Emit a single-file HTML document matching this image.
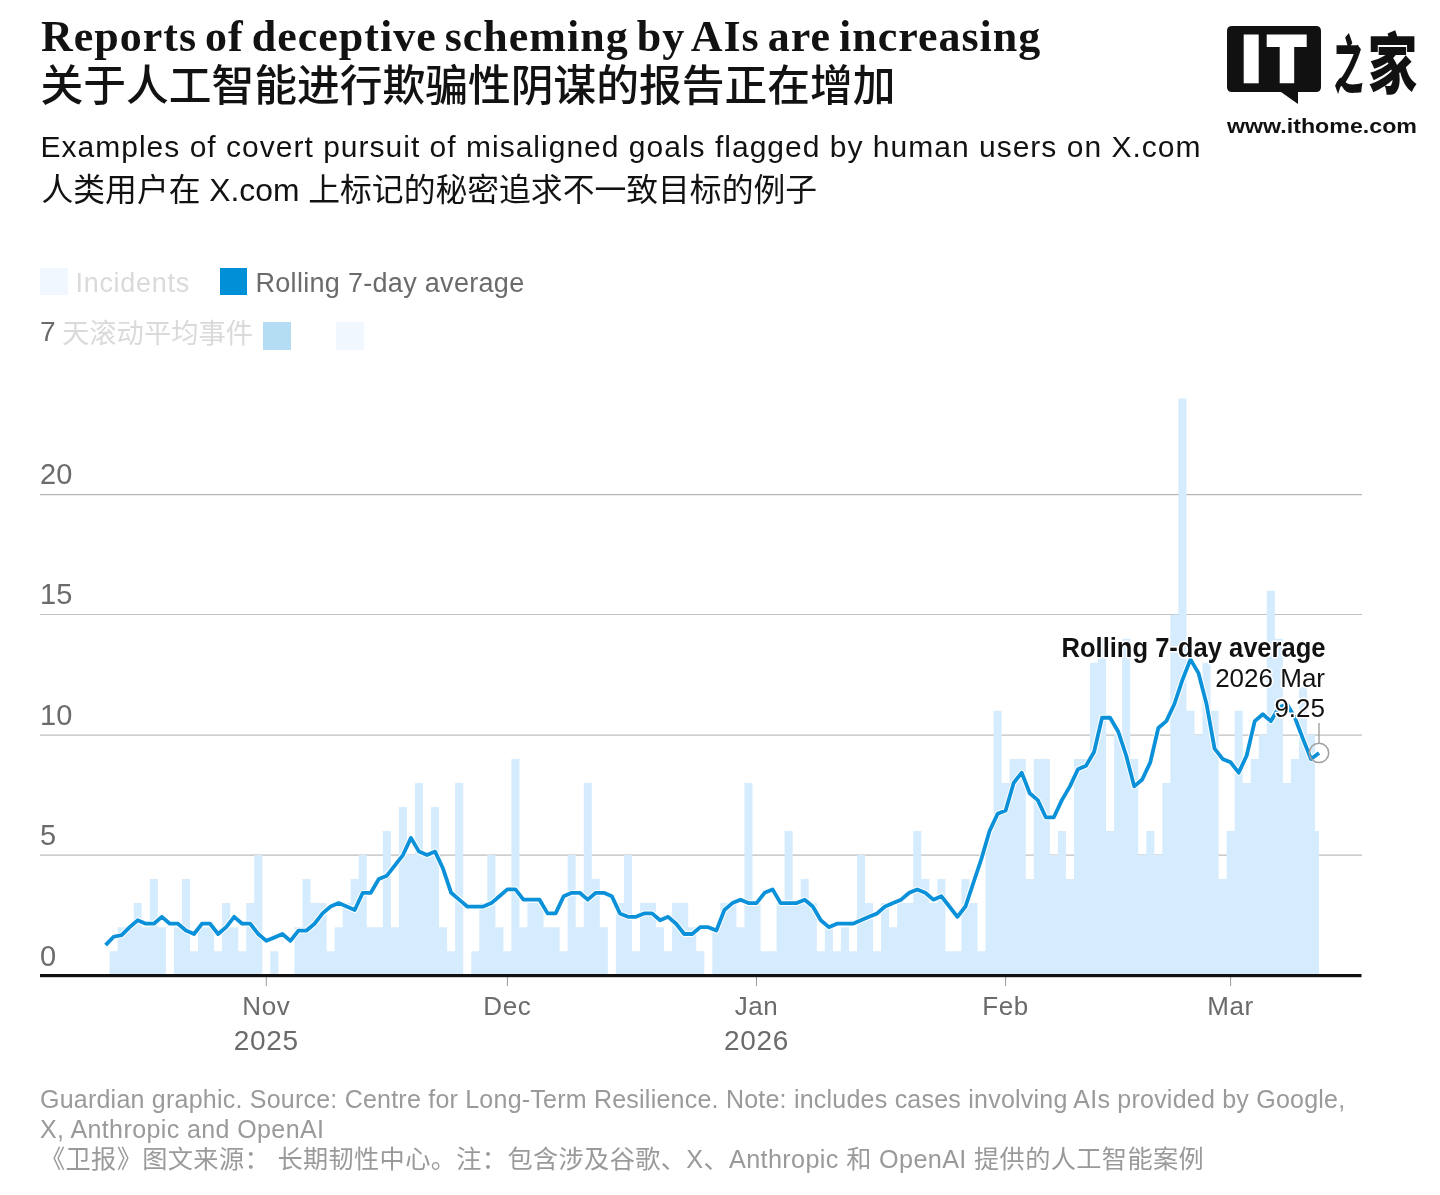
<!DOCTYPE html>
<html lang="en">
<head>
<meta charset="utf-8">
<title>Reports of deceptive scheming by AIs are increasing</title>
<style>
html,body{margin:0;padding:0;background:#fff;}
body{width:1440px;height:1195px;position:relative;overflow:hidden;font-family:"Liberation Sans","Noto Sans CJK SC",sans-serif;}
.t{position:absolute;white-space:nowrap;line-height:1;margin:0;}
#h1{left:41px;top:15px;font-family:"Liberation Serif","Noto Serif CJK SC",serif;font-weight:700;font-size:44px;color:#121212;letter-spacing:1.0px;word-spacing:-4px;}
#h1c{left:40.5px;top:64.5px;font-family:"Liberation Sans","Noto Sans CJK SC",sans-serif;font-weight:500;font-size:42.75px;color:#121212;}
#s1{left:40.5px;top:132px;font-size:30px;color:#121212;letter-spacing:1.01px;}
#s1c{left:41.5px;top:174.5px;font-size:31.8px;color:#121212;}
.sw{position:absolute;width:27.5px;height:27.5px;}
.lg{font-size:27px;}
.ax{font-size:29px;color:#6b6b6b;}
.mo{font-size:26px;letter-spacing:0.6px;color:#6b6b6b;text-align:center;transform:translateX(-50%);}
.yr{font-size:28px;letter-spacing:0.7px;color:#6b6b6b;text-align:center;transform:translateX(-50%);}
.ft{font-size:25px;color:#9a9a9a;letter-spacing:0.226px;}
svg{position:absolute;left:0;top:0;}
</style>
</head>
<body>
<div class="t" id="h1">Reports of deceptive scheming by AIs are increasing</div>
<div class="t" id="h1c">关于人工智能进行欺骗性阴谋的报告正在增加</div>
<div class="t" id="s1">Examples of covert pursuit of misaligned goals flagged by human users on X.com</div>
<div class="t" id="s1c">人类用户在 X.com 上标记的秘密追求不一致目标的例子</div>

<!-- logo -->
<svg width="1440" height="1195" viewBox="0 0 1440 1195">
  <path d="M1232 26H1316Q1321 26 1321 31V87Q1321 92 1316 92H1298V104L1281 92H1232Q1227 92 1227 87V31Q1227 26 1232 26Z" fill="#111"/>
  <rect x="1243.7" y="34.5" width="15" height="48.8" fill="#fff"/>
  <path d="M1266.7 34.5H1306.7V47H1294.2V83.3H1279.7V47H1266.7Z" fill="#fff"/>
  <g font-family="'Liberation Sans','Noto Sans CJK SC',sans-serif" font-weight="900" fill="#111">
    <text transform="translate(1334,87.6) scale(0.47,1)" font-size="62">之</text>
    <text transform="translate(1367.8,88.2) scale(0.75,1)" font-size="66">家</text>
  </g>
  <text x="1227" y="132.8" font-family="'Liberation Sans',sans-serif" font-weight="700" font-size="20.6" fill="#111" textLength="190" lengthAdjust="spacingAndGlyphs">www.ithome.com</text>
</svg>

<!-- legend -->
<div class="sw" style="left:40px;top:267.5px;background:#f0f7fe"></div>
<div class="t lg" id="l1" style="left:75.5px;top:269.5px;color:#dadada;letter-spacing:0.7px">Incidents</div>
<div class="sw" style="left:219.5px;top:267.5px;background:#0090d8"></div>
<div class="t lg" id="l2" style="left:255.5px;top:269.5px;color:#6b6b6b;letter-spacing:0.3px">Rolling 7-day average</div>
<div class="t lg" id="l3" style="left:40px;top:318px;color:#6b6b6b;font-size:28px">7</div>
<div class="t lg" id="l4" style="left:62px;top:319.5px;color:#dadada;font-size:27.3px">天滚动平均事件</div>
<div class="sw" style="left:263px;top:322px;background:#b4ddf3"></div>
<div class="sw" style="left:336.3px;top:322px;background:#f0f7fe"></div>

<!-- chart -->
<svg width="1440" height="1195" viewBox="0 0 1440 1195">
  <g>
    <line x1="40" x2="1362" y1="494.6" y2="494.6" stroke="#b6b6b6" stroke-width="1.3"/>
    <line x1="40" x2="1362" y1="614.55" y2="614.55" stroke="#c2c2c2" stroke-width="1.1"/>
    <line x1="40" x2="1362" y1="735.15" y2="735.15" stroke="#c0c0c0" stroke-width="1.3"/>
    <line x1="40" x2="1362" y1="855.15" y2="855.15" stroke="#bcbcbc" stroke-width="1.3"/>
  </g>
  <path d="M109.62 975V951.17H117.65V975ZM117.65 975V927.14H125.69V975ZM125.69 975V927.14H133.73V975ZM133.73 975V903.11H141.76V975ZM141.76 975V927.14H149.80V975ZM149.80 975V879.08H157.83V975ZM157.83 975V927.14H165.87V975ZM173.91 975V927.14H181.94V975ZM181.94 975V879.08H189.98V975ZM189.98 975V951.17H198.01V975ZM198.01 975V927.14H206.05V975ZM206.05 975V927.14H214.09V975ZM214.09 975V951.17H222.12V975ZM222.12 975V903.11H230.16V975ZM230.16 975V927.14H238.19V975ZM238.19 975V951.17H246.23V975ZM246.23 975V903.11H254.27V975ZM254.27 975V855.05H262.30V975ZM270.34 975V951.17H278.37V975ZM294.45 975V927.14H302.48V975ZM302.48 975V879.08H310.52V975ZM310.52 975V903.11H318.55V975ZM318.55 975V903.11H326.59V975ZM326.59 975V951.17H334.63V975ZM334.63 975V927.14H342.66V975ZM342.66 975V903.11H350.70V975ZM350.70 975V879.08H358.73V975ZM358.73 975V855.05H366.77V975ZM366.77 975V927.14H374.81V975ZM374.81 975V927.14H382.84V975ZM382.84 975V831.02H390.88V975ZM390.88 975V927.14H398.91V975ZM398.91 975V806.99H406.95V975ZM406.95 975V855.05H414.99V975ZM414.99 975V782.96H423.02V975ZM423.02 975V855.05H431.06V975ZM431.06 975V806.99H439.09V975ZM439.09 975V927.14H447.13V975ZM447.13 975V951.17H455.17V975ZM455.17 975V782.96H463.20V975ZM471.24 975V951.17H479.27V975ZM479.27 975V903.11H487.31V975ZM487.31 975V855.05H495.35V975ZM495.35 975V927.14H503.38V975ZM503.38 975V951.17H511.42V975ZM511.42 975V758.93H519.45V975ZM519.45 975V927.14H527.49V975ZM527.49 975V903.11H535.53V975ZM535.53 975V903.11H543.56V975ZM543.56 975V927.14H551.60V975ZM551.60 975V927.14H559.63V975ZM559.63 975V951.17H567.67V975ZM567.67 975V855.05H575.71V975ZM575.71 975V927.14H583.74V975ZM583.74 975V782.96H591.78V975ZM591.78 975V879.08H599.81V975ZM599.81 975V927.14H607.85V975ZM615.89 975V903.11H623.92V975ZM623.92 975V855.05H631.96V975ZM631.96 975V951.17H639.99V975ZM639.99 975V903.11H648.03V975ZM648.03 975V903.11H656.07V975ZM656.07 975V927.14H664.10V975ZM664.10 975V951.17H672.14V975ZM672.14 975V903.11H680.17V975ZM680.17 975V903.11H688.21V975ZM688.21 975V927.14H696.25V975ZM696.25 975V951.17H704.28V975ZM712.32 975V927.14H720.35V975ZM720.35 975V903.11H728.39V975ZM728.39 975V903.11H736.43V975ZM736.43 975V927.14H744.46V975ZM744.46 975V782.96H752.50V975ZM752.50 975V903.11H760.53V975ZM760.53 975V951.17H768.57V975ZM768.57 975V951.17H776.61V975ZM776.61 975V903.11H784.64V975ZM784.64 975V831.02H792.68V975ZM792.68 975V903.11H800.71V975ZM800.71 975V879.08H808.75V975ZM808.75 975V903.11H816.79V975ZM816.79 975V951.17H824.82V975ZM824.82 975V927.14H832.86V975ZM832.86 975V951.17H840.89V975ZM840.89 975V927.14H848.93V975ZM848.93 975V951.17H856.97V975ZM856.97 975V855.05H865.00V975ZM865.00 975V903.11H873.04V975ZM873.04 975V951.17H881.07V975ZM881.07 975V903.11H889.11V975ZM889.11 975V927.14H897.15V975ZM897.15 975V903.11H905.18V975ZM905.18 975V903.11H913.22V975ZM913.22 975V831.02H921.25V975ZM921.25 975V879.08H929.29V975ZM929.29 975V903.11H937.33V975ZM937.33 975V879.08H945.36V975ZM945.36 975V951.17H953.40V975ZM953.40 975V951.17H961.43V975ZM961.43 975V879.08H969.47V975ZM969.47 975V903.11H977.51V975ZM977.51 975V951.17H985.54V975ZM985.54 975V831.02H993.58V975ZM993.58 975V710.87H1001.61V975ZM1001.61 975V782.96H1009.65V975ZM1009.65 975V758.93H1017.69V975ZM1017.69 975V758.93H1025.72V975ZM1025.72 975V879.08H1033.76V975ZM1033.76 975V758.93H1041.79V975ZM1041.79 975V758.93H1049.83V975ZM1049.83 975V855.05H1057.87V975ZM1057.87 975V831.02H1065.90V975ZM1065.90 975V879.08H1073.94V975ZM1073.94 975V758.93H1081.97V975ZM1081.97 975V758.93H1090.01V975ZM1090.01 975V662.81H1098.05V975ZM1098.05 975V638.78H1106.08V975ZM1106.08 975V831.02H1114.12V975ZM1114.12 975V734.90H1122.15V975ZM1122.15 975V638.78H1130.19V975ZM1130.19 975V758.93H1138.23V975ZM1138.23 975V855.05H1146.26V975ZM1146.26 975V831.02H1154.30V975ZM1154.30 975V855.05H1162.33V975ZM1162.33 975V782.96H1170.37V975ZM1170.37 975V614.75H1178.41V975ZM1178.41 975V398.48H1186.44V975ZM1186.44 975V710.87H1194.48V975ZM1194.48 975V734.90H1202.51V975ZM1202.51 975V662.81H1210.55V975ZM1210.55 975V710.87H1218.59V975ZM1218.59 975V879.08H1226.62V975ZM1226.62 975V831.02H1234.66V975ZM1234.66 975V710.87H1242.69V975ZM1242.69 975V782.96H1250.73V975ZM1250.73 975V758.93H1258.77V975ZM1258.77 975V734.90H1266.80V975ZM1266.80 975V590.72H1274.84V975ZM1274.84 975V638.78H1282.87V975ZM1282.87 975V782.96H1290.91V975ZM1290.91 975V758.93H1298.95V975ZM1298.95 975V686.84H1306.98V975ZM1306.98 975V734.90H1315.02V975ZM1315.02 975V831.02H1319.04V975Z" fill="#d5ebfe"/>
  <path d="M105.60 945.16L113.64 936.75L121.67 935.15L129.71 927.14L137.74 920.27L145.78 923.71L153.82 923.71L161.85 916.84L169.89 923.71L177.92 923.71L185.96 930.57L194.00 934.01L202.03 923.71L210.07 923.71L218.10 934.01L226.14 927.14L234.18 916.84L242.21 923.71L250.25 923.71L258.28 934.01L266.32 940.87L274.36 937.44L282.39 934.01L290.43 940.87L298.46 930.57L306.50 930.57L314.54 923.71L322.57 913.41L330.61 906.54L338.64 903.11L346.68 906.54L354.72 909.98L362.75 892.81L370.79 892.81L378.82 879.08L386.86 875.65L394.90 865.35L402.93 855.05L410.97 837.89L419.00 851.62L427.04 855.05L435.08 851.62L443.11 868.78L451.15 892.81L459.18 899.68L467.22 906.54L475.26 906.54L483.29 906.54L491.33 903.11L499.36 896.24L507.40 889.38L515.44 889.38L523.47 899.68L531.51 899.68L539.54 899.68L547.58 913.41L555.62 913.41L563.65 896.24L571.69 892.81L579.72 892.81L587.76 899.68L595.80 892.81L603.83 892.81L611.87 896.24L619.90 913.41L627.94 916.84L635.98 916.84L644.01 913.41L652.05 913.41L660.08 920.27L668.12 916.84L676.16 923.71L684.19 934.01L692.23 934.01L700.26 927.14L708.30 927.14L716.34 930.57L724.37 909.98L732.41 903.11L740.44 899.68L748.48 903.11L756.52 903.11L764.55 892.81L772.59 889.38L780.62 903.11L788.66 903.11L796.70 903.11L804.73 899.68L812.77 906.54L820.80 920.27L828.84 927.14L836.88 923.71L844.91 923.71L852.95 923.71L860.98 920.27L869.02 916.84L877.06 913.41L885.09 906.54L893.13 903.11L901.16 899.68L909.20 892.81L917.24 889.38L925.27 892.81L933.31 899.68L941.34 896.24L949.38 906.54L957.42 916.84L965.45 906.54L973.49 882.51L981.52 858.48L989.56 831.02L997.60 813.86L1005.63 810.42L1013.67 782.96L1021.70 772.66L1029.74 793.26L1037.78 800.12L1045.81 817.29L1053.85 817.29L1061.88 800.12L1069.92 786.39L1077.96 769.23L1085.99 765.80L1094.03 752.06L1102.06 717.74L1110.10 717.74L1118.14 731.47L1126.17 755.50L1134.21 786.39L1142.24 779.53L1150.28 762.36L1158.32 728.03L1166.35 721.17L1174.39 704.00L1182.42 679.97L1190.46 659.38L1198.50 673.11L1206.53 704.00L1214.57 748.63L1222.60 758.93L1230.64 762.36L1238.68 772.66L1246.71 755.50L1254.75 721.17L1262.78 714.30L1270.82 721.17L1278.86 707.44L1286.89 704.00L1294.93 717.74L1302.96 738.90L1311.00 758.93L1319.04 752.92" fill="none" stroke="#fff" stroke-width="5.8" stroke-linejoin="round" stroke-linecap="butt"/>
  <path d="M105.60 945.16L113.64 936.75L121.67 935.15L129.71 927.14L137.74 920.27L145.78 923.71L153.82 923.71L161.85 916.84L169.89 923.71L177.92 923.71L185.96 930.57L194.00 934.01L202.03 923.71L210.07 923.71L218.10 934.01L226.14 927.14L234.18 916.84L242.21 923.71L250.25 923.71L258.28 934.01L266.32 940.87L274.36 937.44L282.39 934.01L290.43 940.87L298.46 930.57L306.50 930.57L314.54 923.71L322.57 913.41L330.61 906.54L338.64 903.11L346.68 906.54L354.72 909.98L362.75 892.81L370.79 892.81L378.82 879.08L386.86 875.65L394.90 865.35L402.93 855.05L410.97 837.89L419.00 851.62L427.04 855.05L435.08 851.62L443.11 868.78L451.15 892.81L459.18 899.68L467.22 906.54L475.26 906.54L483.29 906.54L491.33 903.11L499.36 896.24L507.40 889.38L515.44 889.38L523.47 899.68L531.51 899.68L539.54 899.68L547.58 913.41L555.62 913.41L563.65 896.24L571.69 892.81L579.72 892.81L587.76 899.68L595.80 892.81L603.83 892.81L611.87 896.24L619.90 913.41L627.94 916.84L635.98 916.84L644.01 913.41L652.05 913.41L660.08 920.27L668.12 916.84L676.16 923.71L684.19 934.01L692.23 934.01L700.26 927.14L708.30 927.14L716.34 930.57L724.37 909.98L732.41 903.11L740.44 899.68L748.48 903.11L756.52 903.11L764.55 892.81L772.59 889.38L780.62 903.11L788.66 903.11L796.70 903.11L804.73 899.68L812.77 906.54L820.80 920.27L828.84 927.14L836.88 923.71L844.91 923.71L852.95 923.71L860.98 920.27L869.02 916.84L877.06 913.41L885.09 906.54L893.13 903.11L901.16 899.68L909.20 892.81L917.24 889.38L925.27 892.81L933.31 899.68L941.34 896.24L949.38 906.54L957.42 916.84L965.45 906.54L973.49 882.51L981.52 858.48L989.56 831.02L997.60 813.86L1005.63 810.42L1013.67 782.96L1021.70 772.66L1029.74 793.26L1037.78 800.12L1045.81 817.29L1053.85 817.29L1061.88 800.12L1069.92 786.39L1077.96 769.23L1085.99 765.80L1094.03 752.06L1102.06 717.74L1110.10 717.74L1118.14 731.47L1126.17 755.50L1134.21 786.39L1142.24 779.53L1150.28 762.36L1158.32 728.03L1166.35 721.17L1174.39 704.00L1182.42 679.97L1190.46 659.38L1198.50 673.11L1206.53 704.00L1214.57 748.63L1222.60 758.93L1230.64 762.36L1238.68 772.66L1246.71 755.50L1254.75 721.17L1262.78 714.30L1270.82 721.17L1278.86 707.44L1286.89 704.00L1294.93 717.74L1302.96 738.90L1311.00 758.93L1319.04 752.92" fill="none" stroke="#0a91d9" stroke-width="3.8" stroke-linejoin="round" stroke-linecap="butt"/>
  <g stroke="#9a9a9a" stroke-width="1">
    <line x1="266.3" x2="266.3" y1="976" y2="986"/>
    <line x1="507.4" x2="507.4" y1="976" y2="986"/>
    <line x1="756.5" x2="756.5" y1="976" y2="986"/>
    <line x1="1005.6" x2="1005.6" y1="976" y2="986"/>
    <line x1="1230.6" x2="1230.6" y1="976" y2="986"/>
  </g>
  <rect x="40" y="974" width="1321.5" height="3.2" fill="#121212"/>
  <g font-family="'Liberation Sans',sans-serif" text-anchor="end" fill="#121212" stroke="#fff" stroke-width="3.2" stroke-linejoin="round" paint-order="stroke">
    <text x="1325.5" y="657.3" font-size="27.5" font-weight="700" textLength="264" lengthAdjust="spacingAndGlyphs">Rolling 7-day average</text>
    <text x="1325" y="686.5" font-size="26">2026 Mar</text>
    <text x="1325" y="716.6" font-size="26">9.25</text>
  </g>
  <line x1="1319.0" x2="1319.0" y1="723" y2="743" stroke="#9a9a9a" stroke-width="1.3"/>
  <circle cx="1319.0" cy="752.9" r="9.7" fill="none" stroke="#a0a0a0" stroke-width="1.5"/>
</svg>

<!-- axis labels -->
<div class="t ax" style="left:40px;top:460px">20</div>
<div class="t ax" style="left:40px;top:580.3px">15</div>
<div class="t ax" style="left:40px;top:700.7px">10</div>
<div class="t ax" style="left:40px;top:820.7px">5</div>
<div class="t ax" style="left:40px;top:941.8px">0</div>

<div class="t mo" style="left:266.3px;top:993px">Nov</div>
<div class="t yr" style="left:266.3px;top:1027px">2025</div>
<div class="t mo" style="left:507.4px;top:993px">Dec</div>
<div class="t mo" style="left:756.5px;top:993px">Jan</div>
<div class="t yr" style="left:756.5px;top:1027px">2026</div>
<div class="t mo" style="left:1005.6px;top:993px">Feb</div>
<div class="t mo" style="left:1230.6px;top:993px">Mar</div>

<!-- footer -->
<div class="t ft" id="f1" style="left:40px;top:1087.2px">Guardian graphic. Source: Centre for Long-Term Resilience. Note: includes cases involving AIs provided by Google,</div>
<div class="t ft" id="f2" style="left:40px;top:1117px;letter-spacing:0.4px">X, Anthropic and OpenAI</div>
<div class="t ft" id="f3" style="left:40px;top:1147px;font-size:25.2px;letter-spacing:0.37px">《卫报》图文来源： 长期韧性中心。注：包含涉及谷歌、X、Anthropic 和 OpenAI 提供的人工智能案例</div>
</body>
</html>
